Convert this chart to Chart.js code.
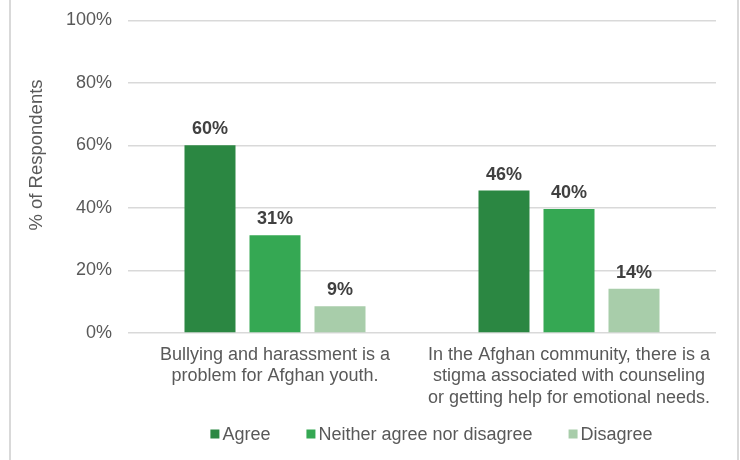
<!DOCTYPE html>
<html>
<head>
<meta charset="utf-8">
<script src="https://cdn.jsdelivr.net/npm/chart.js@4/dist/chart.umd.min.js"></script>
<style>
  html, body { margin: 0; padding: 0; background: #ffffff; }
  #wrap { width: 740px; height: 460px; position: relative; }
</style>
</head>
<body>
<div id="wrap"><canvas id="c" width="740" height="460"></canvas></div>
<script>
// ---- Data ----
const categories = [
  ["Bullying and harassment is a", "problem for Afghan youth."],
  ["In the Afghan community, there is a", "stigma associated with counseling", "or getting help for emotional needs."]
];
const seriesNames = ["Agree", "Neither agree nor disagree", "Disagree"];
const agreeValues = [60.1, 45.6];
const neitherValues = [31.3, 39.7];
const disagreeValues = [8.6, 14.2];
const yTicks = [0, 20, 40, 60, 80, 100];
const yTitle = "% of Respondents";

const colors = ["#2B8742", "#35A853", "#A8CDAA"];
const FONT = "'Liberation Sans', Arial, sans-serif";

const frame = {
  id: 'frame',
  beforeDraw(chart) {
    const ctx = chart.ctx;
    ctx.save();
    ctx.fillStyle = '#ffffff';
    ctx.fillRect(0, 0, chart.width, chart.height);
    ctx.strokeStyle = '#d9d9d9';
    ctx.lineWidth = 2;
    ctx.beginPath();
    ctx.moveTo(10, 0); ctx.lineTo(10, chart.height);
    ctx.moveTo(738, 0); ctx.lineTo(738, chart.height);
    ctx.stroke();
    ctx.restore();
  }
};

const dataLabels = {
  id: 'dataLabels',
  afterDatasetsDraw(chart) {
    const ctx = chart.ctx;
    ctx.save();
    ctx.font = "bold 18px " + FONT;
    ctx.fillStyle = '#404040';
    ctx.textAlign = 'center';
    ctx.textBaseline = 'alphabetic';
    chart.data.datasets.forEach((ds, i) => {
      const meta = chart.getDatasetMeta(i);
      meta.data.forEach((bar, j) => {
        ctx.fillText(Math.round(ds.data[j]) + '%', bar.x, bar.y - 11);
      });
    });
    ctx.restore();
  }
};

const yTitlePlugin = {
  id: 'yTitlePlugin',
  afterDraw(chart) {
    const ctx = chart.ctx;
    ctx.save();
    ctx.font = "18.5px " + FONT;
    ctx.fillStyle = '#595959';
    ctx.textAlign = 'center';
    ctx.textBaseline = 'middle';
    ctx.translate(37, 155);
    ctx.rotate(-Math.PI / 2);
    ctx.fillText(yTitle, 0, 0);
    ctx.restore();
  }
};

const legendPlugin = {
  id: 'legendPlugin',
  afterDraw(chart) {
    const ctx = chart.ctx;
    ctx.save();
    ctx.font = "18px " + FONT;
    ctx.textBaseline = 'middle';
    ctx.textAlign = 'left';
    const box = 9, gapText = 3, gapItem = 36;
    const items = chart.data.datasets.map(ds => ({
      label: ds.label, color: ds.backgroundColor, w: box + gapText + ctx.measureText(ds.label).width
    }));
    const total = items.reduce((s, it) => s + it.w, 0) + gapItem * (items.length - 1);
    let x = 431.5 - total / 2;
    const y = 434;
    items.forEach(it => {
      ctx.fillStyle = it.color;
      ctx.fillRect(x, y - box / 2, box, box);
      ctx.fillStyle = '#595959';
      ctx.fillText(it.label, x + box + gapText, y + 1);
      x += it.w + gapItem;
    });
    ctx.restore();
  }
};

const allValues = [agreeValues, neitherValues, disagreeValues];

new Chart(document.getElementById('c'), {
  type: 'bar',
  data: {
    labels: categories,
    datasets: seriesNames.map((name, i) => ({
      label: name,
      data: allValues[i],
      backgroundColor: colors[i],
      borderWidth: 0,
      categoryPercentage: 0.6633,
      barPercentage: 0.7846
    }))
  },
  options: {
    responsive: false,
    animation: false,
    devicePixelRatio: 1,
    layout: { padding: { left: 0, right: 24, top: 20.5, bottom: 47 } },
    plugins: {
      legend: { display: false },
      tooltip: { enabled: false },
      title: { display: false }
    },
    scales: {
      x: {
        grid: { display: false, drawTicks: false },
        border: { display: false },
        ticks: {
          color: '#595959',
          font: { family: FONT, size: 18, lineHeight: 1.2 },
          padding: 11,
          maxRotation: 0,
          autoSkip: false
        },
        afterFit(scale) { scale.height = 80; scale.paddingLeft = 0; scale.paddingRight = 0; }
      },
      y: {
        min: 0,
        max: 100,
        afterBuildTicks(scale) { scale.ticks = yTicks.map(v => ({ value: v })); },
        grid: { color: '#d9d9d9', lineWidth: 1.5, drawTicks: false },
        border: { display: false },
        ticks: {
          color: '#595959',
          font: { family: FONT, size: 18 },
          padding: 16,
          callback: v => v + '%'
        },
        afterFit(scale) { scale.width = 128; scale.paddingTop = 0; scale.paddingBottom = 0; }
      }
    }
  },
  plugins: [frame, dataLabels, yTitlePlugin, legendPlugin]
});
</script>
</body>
</html>
